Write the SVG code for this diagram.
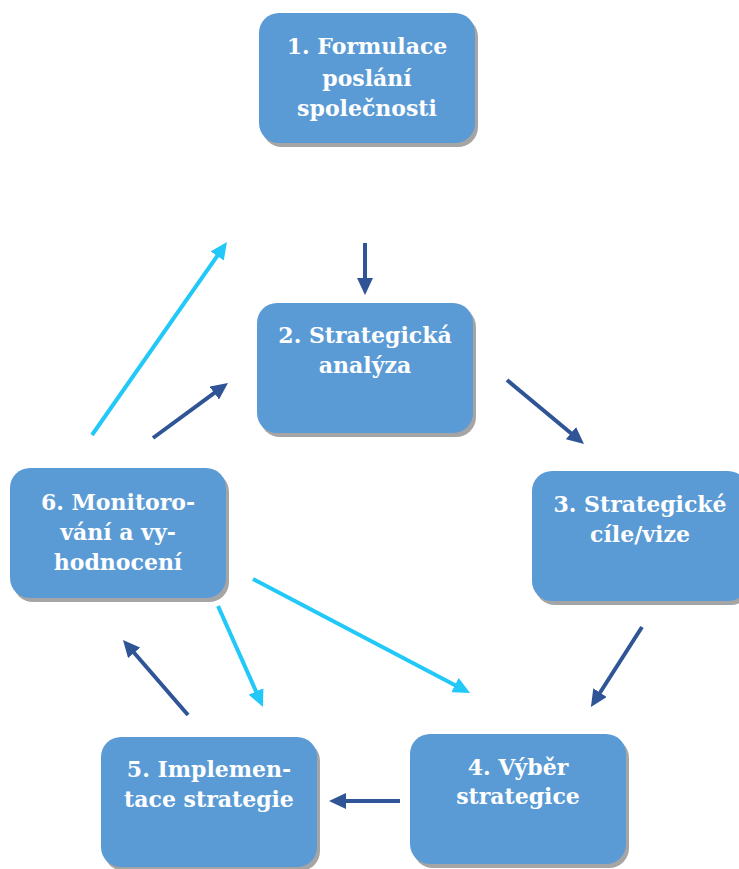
<svg xmlns="http://www.w3.org/2000/svg" width="739" height="869" viewBox="0 0 739 869">
<defs>
<style>
.box{fill:#5B9BD5;}
.sh{fill:#A5A5A5;}
.t{font-family:"DejaVu Serif","Liberation Serif",serif;font-weight:bold;font-size:22px;fill:#FFFFFF;text-anchor:middle;}
.dk{stroke:#2F5597;stroke-width:4;fill:none;marker-end:url(#ad);}
.cy{stroke:#22C8F8;stroke-width:4;fill:none;marker-end:url(#ac);}
</style>
<marker id="ad" markerUnits="userSpaceOnUse" markerWidth="17" markerHeight="16" viewBox="0 0 17 16" refX="4" refY="8" orient="auto"><path d="M0,0 L17,8 L0,16 z" fill="#2F5597"/></marker>
<marker id="ac" markerUnits="userSpaceOnUse" markerWidth="17" markerHeight="16" viewBox="0 0 17 16" refX="4" refY="8" orient="auto"><path d="M0,0 L17,8 L0,16 z" fill="#22C8F8"/></marker>
</defs>
<rect width="739" height="869" fill="#FFFFFF"/>
<g id="n1">
<rect class="sh" x="262" y="17" width="216" height="130" rx="20"/>
<rect class="box" x="259" y="13" width="216" height="130" rx="20"/>
<text class="t" x="367" y="54">1. Formulace</text>
<text class="t" x="367" y="86">poslání</text>
<text class="t" x="367" y="116">společnosti</text>
</g>
<g id="n2">
<rect class="sh" x="260" y="307" width="216" height="130" rx="20"/>
<rect class="box" x="257" y="303" width="216" height="130" rx="20"/>
<text class="t" x="365" y="343">2. Strategická</text>
<text class="t" x="365" y="373">analýza</text>
</g>
<g id="n3">
<rect class="sh" x="535" y="475" width="216" height="130" rx="20"/>
<rect class="box" x="532" y="471" width="216" height="130" rx="20"/>
<text class="t" x="640" y="512">3. Strategické</text>
<text class="t" x="640" y="542">cíle/vize</text>
</g>
<g id="n4">
<rect class="sh" x="413" y="738" width="216" height="130" rx="20"/>
<rect class="box" x="410" y="734" width="216" height="130" rx="20"/>
<text class="t" x="518" y="775">4. Výběr</text>
<text class="t" x="518" y="804">strategice</text>
</g>
<g id="n5">
<rect class="sh" x="104" y="741" width="216" height="130" rx="20"/>
<rect class="box" x="101" y="737" width="216" height="130" rx="20"/>
<text class="t" x="209" y="777">5. Implemen-</text>
<text class="t" x="209" y="807">tace strategie</text>
</g>
<g id="n6">
<rect class="sh" x="13" y="472" width="216" height="130" rx="20"/>
<rect class="box" x="10" y="468" width="216" height="130" rx="20"/>
<text class="t" x="118" y="510">6. Monitoro-</text>
<text class="t" x="118" y="540">vání a vy-</text>
<text class="t" x="118" y="570">hodnocení</text>
</g>
<g id="connectors">
<line class="dk" x1="365" y1="243" x2="365" y2="282"/>
<line class="dk" x1="507" y1="380" x2="574" y2="435.7"/>
<line class="dk" x1="642" y1="627" x2="597.9" y2="696"/>
<line class="dk" x1="400" y1="801" x2="342" y2="801"/>
<line class="dk" x1="188" y1="715" x2="131.5" y2="649.8"/>
<line class="dk" x1="153" y1="438" x2="217.5" y2="390.7"/>
<line class="cy" x1="92" y1="435" x2="219.5" y2="252.7"/>
<line class="cy" x1="218" y1="606" x2="257.7" y2="695.1"/>
<line class="cy" x1="253" y1="579" x2="458.5" y2="686.9"/>
</g>
</svg>
